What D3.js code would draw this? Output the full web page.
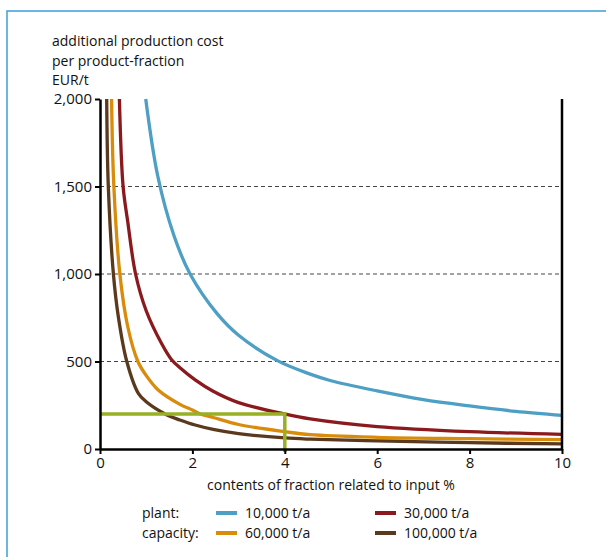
<!DOCTYPE html>
<html><head><meta charset="utf-8">
<script src="https://cdn.jsdelivr.net/npm/d3@7"></script>
<style>
body{margin:0;background:#fff;}
text{font-family:"Open Sans","Noto Sans",sans-serif;fill:#111;}
</style></head>
<body>
<svg id="chart" width="606" height="557"></svg>
<script>
// ---- data ----
const seriesNames = ["10,000 t/a","30,000 t/a","60,000 t/a","100,000 t/a"];
const seriesColors = ["#4d9fc4","#8a1a1e","#d98b0c","#5a391c"];
const x10000 = [0.99,1.25,1.6,1.95,2.53,3.0,3.84,4.55,5,6,7,8,9,10];
const y10000 = [2000,1560,1220,1000,775,650,505,428,390,332,282,246,215,192];
const x30000 = [0.42,0.5,0.6,0.77,1.0,1.33,1.55,1.75,2.06,2.45,3,4,4.55,6,8,10];
const y30000 = [2000,1500,1300,1000,790,604,510,460,395,330,265,200,172,128,99,84];
const x60000 = [0.25,0.30,0.43,0.6,0.82,1.0,1.26,1.73,2.0,2.17,2.45,3,4,4.55,6,8,10];
const y60000 = [2000,1500,1000,700,500,420,337,255,223,200,180,140,99,82,67,59,53];
const x100000 = [0.145,0.18,0.29,0.4,0.58,0.83,1.0,1.44,1.73,2.06,2.45,3,4,4.55,6,8,10];
const y100000 = [2000,1500,1000,750,500,318,270,196,166,137,112,88,63,56,46,36,29];
const xTicks = [0,2,4,6,8,10];
const yTicks = [0,500,1000,1500,2000];
const gridValues = [500,1000,1500];
const markerX = 4, markerY = 200;
const titleLines = ["additional production cost","per product-fraction","EUR/t"];
const xTitle = "contents of fraction related to input %";
const legendLabels = ["plant:","capacity:"];

const seriesX = [x10000,x30000,x60000,x100000];
const seriesY = [y10000,y30000,y60000,y100000];

// ---- chart ----
const svg = d3.select("#chart");
svg.append("rect").attr("x",7).attr("y",11).attr("width",700).attr("height",700)
  .attr("fill","none").attr("stroke","#3aa0dc").attr("stroke-width",1.5);

const x = d3.scaleLinear().domain([0,10]).range([100,562]);
const y = d3.scaleLinear().domain([0,2000]).range([449,99]);

// grid
svg.append("g").selectAll("line").data(gridValues).join("line")
  .attr("x1",x(0)).attr("x2",x(10)).attr("y1",d=>y(d)).attr("y2",d=>y(d))
  .attr("stroke","#444").attr("stroke-width",1).attr("stroke-dasharray","4,3");

// curves
const line = d3.line().x(d=>x(d[0])).y(d=>y(d[1])).curve(d3.curveCatmullRom.alpha(0.5));
seriesX.forEach((xs,i)=>{
  const pts = xs.map((v,j)=>[v,seriesY[i][j]]);
  svg.append("path").attr("d",line(pts)).attr("fill","none")
    .attr("stroke",seriesColors[i]).attr("stroke-width",3.3);
});

// marker lines
svg.append("path")
  .attr("d",`M${x(0)},${y(markerY)}H${x(markerX)}V${y(0)+3}`)
  .attr("fill","none").attr("stroke","#97b024").attr("stroke-width",3.5);

// axes
const yAxis = svg.append("g").attr("transform",`translate(${x(0)},0)`)
  .call(d3.axisLeft(y).tickValues(yTicks).tickFormat(d3.format(",")).tickSize(5).tickSizeOuter(0).tickPadding(3));
const xAxis = svg.append("g").attr("transform",`translate(0,${y(0)})`)
  .call(d3.axisBottom(x).tickValues(xTicks).tickSize(5).tickSizeOuter(0).tickPadding(3));
[yAxis,xAxis].forEach(g=>{
  g.select(".domain").attr("stroke","#000").attr("stroke-width",2.5);
  g.selectAll(".tick line").attr("stroke","#000").attr("stroke-width",2);
  g.selectAll(".tick text").attr("font-size",15).attr("font-family","Open Sans").attr("fill","#111");
});
svg.append("line").attr("x1",x(10)).attr("x2",x(10)).attr("y1",y(0)+1).attr("y2",y(2000))
  .attr("stroke","#000").attr("stroke-width",2.5);

// titles
svg.append("g").selectAll("text").data(titleLines).join("text")
  .attr("x",52).attr("y",(d,i)=>46+i*19.5).attr("font-size",14).text(d=>d);
svg.append("text").attr("x",(x(0)+x(10))/2).attr("y",490).attr("text-anchor","middle")
  .attr("font-size",14).text(xTitle);

// legend
svg.append("g").selectAll("text").data(legendLabels).join("text")
  .attr("x",142).attr("y",(d,i)=>518+i*20).attr("font-size",14).text(d=>d);
const legPos = [[216,518],[375,518],[216,538],[375,538]];
seriesNames.forEach((n,i)=>{
  const [lx,ly]=legPos[i];
  svg.append("line").attr("x1",lx).attr("x2",lx+21).attr("y1",ly-5).attr("y2",ly-5)
    .attr("stroke",seriesColors[i]).attr("stroke-width",4);
  svg.append("text").attr("x",lx+29).attr("y",ly).attr("font-size",14).text(n);
});
</script>
</body></html>
